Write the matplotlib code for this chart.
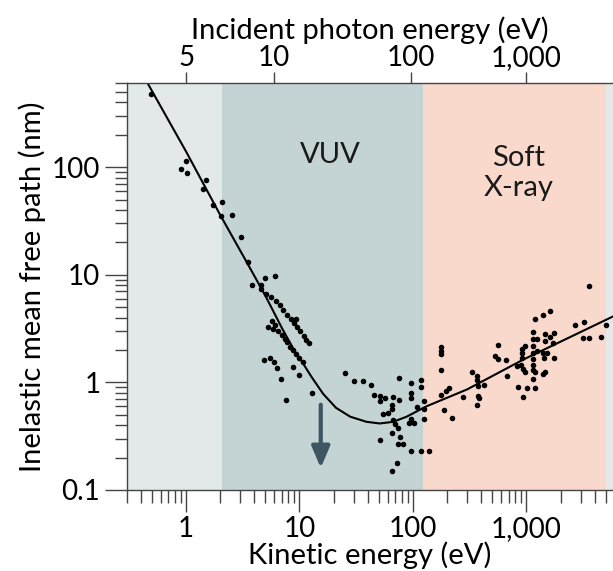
import numpy as np
import matplotlib
matplotlib.use('Agg')
import matplotlib.pyplot as plt
from matplotlib.ticker import LogLocator, NullLocator, NullFormatter

# measured points: kinetic energy (eV) and inelastic mean free path (nm)
kinetic_energy = [
    0.49, 0.99, 0.90, 1.03, 1.51, 1.41, 1.73, 2.06, 2.03, 2.56, 3.07, 3.52, 3.78,
    4.55, 5.0, 6.1,
    4.55, 5.07, 5.6, 6.2, 6.7, 7.2, 7.8, 8.4, 9.3, 8.9, 9.5, 10.2, 11.0, 11.5, 12.1,
    5.7, 5.25, 5.8, 6.1, 6.5, 7.0, 7.4, 7.8, 8.3, 8.85, 9.4, 10.0, 10.7,
    4.9, 5.5, 6.0, 6.4, 6.9, 8.7, 9.9, 7.65, 12.8,
    25.3, 30.2, 36.5, 42.4, 45.6, 51.7, 51.2, 56.3, 66.3, 75, 75.7, 97, 97, 97,
    118, 118, 65, 65, 54.7, 60, 66.3, 70, 74, 66, 77, 51, 73.6, 82, 97, 118, 139,
    72.6, 65.7, 108, 97, 92, 102, 126, 126, 126,
    178, 178, 178, 176, 178, 196, 209, 188, 219, 275, 329, 364, 369, 374, 425,
    374, 381, 370, 561, 528, 561, 656, 680, 847, 931, 1020, 830, 895, 937, 980,
    922, 970, 916, 913, 1135, 1148, 1230, 1148, 1148, 1148, 1188, 1148, 1188,
    1193, 1148, 1148, 1243, 1413, 1622, 1456, 1456, 1622, 1754, 1702, 1406, 1507,
    1435, 1754, 1406, 1470, 2690, 3240, 3160, 3565, 3540, 4530, 5050,
]
mean_free_path = [
    480, 113, 97, 89, 76, 63, 45, 47.5, 35, 36, 22.5, 13.2, 8.1,
    8.1, 9.3, 9.7,
    7.3, 6.7, 6.2, 5.7, 5.2, 4.7, 4.2, 3.9, 3.9, 3.55, 3.25, 3.0, 2.7, 2.5, 2.3,
    3.7, 3.3, 3.15, 3.45, 3.0, 2.75, 2.55, 2.35, 2.15, 2.0, 1.83, 1.68, 1.54,
    1.6, 1.7, 1.55, 1.36, 1.08, 1.39, 1.17, 0.68, 0.79,
    1.21, 1.02, 1.02, 0.94, 0.77, 0.75, 0.67, 0.72, 0.73, 1.09, 0.68, 0.99, 0.80, 0.72,
    1.06, 0.90, 0.61, 0.57, 0.51, 0.52, 0.45, 0.41, 0.38, 0.34, 0.31, 0.29, 0.27, 0.27, 0.23, 0.23, 0.23,
    0.18, 0.15, 0.59, 0.46, 0.42, 0.42, 0.67, 0.57, 0.46,
    2.12, 1.97, 1.82, 1.29, 0.76, 0.84, 0.88, 0.55, 0.47, 0.73, 1.26, 1.15, 1.05, 0.93, 0.94,
    0.75, 0.71, 0.61, 2.22, 1.77, 1.66, 1.60, 1.14, 0.90, 0.73, 0.89, 1.41, 1.46, 1.34, 1.26,
    2.06, 2.18, 1.88, 1.67, 2.17, 1.88, 1.94, 1.64, 1.46, 1.31, 1.24, 1.07, 0.89,
    3.9, 2.92, 2.53, 2.53, 4.2, 4.64, 2.82, 2.40, 2.63, 2.85, 2.34, 1.86, 1.88,
    1.69, 1.67, 1.20, 1.26, 3.39, 3.63, 2.59, 2.59, 7.9, 2.63, 3.38,
]

# universal curve
curve_energy = [0.46, 1, 2, 3.4, 5, 7, 9, 10.5, 12.8, 16.2, 21, 28, 39, 51, 67, 88, 132, 300, 940, 5800]
curve_imfp = [600, 140, 36, 13.3, 6.4, 3.2, 1.98, 1.56, 1.12, 0.78, 0.58, 0.48, 0.43, 0.415, 0.43, 0.48, 0.6, 0.86, 1.63, 4.1]

vuv_range = (2.07, 123)
soft_xray_range = (123, 5000)

bottom_ticks = [1, 10, 100, 1000]
bottom_labels = ['1', '10', '100', '1,000']
y_ticks = [0.1, 1, 10, 100]
y_labels = ['0.1', '1', '10', '100']
photon_ticks = [5, 10, 100, 1000]
photon_labels = ['5', '10', '100', '1,000']
work_function = 4

arrow_energy = 15.4
arrow_top, arrow_tip = 0.62, 0.16

plt.rcParams['font.family'] = ['Lato', 'DejaVu Sans']

fig = plt.figure(figsize=(6.13, 5.71), dpi=100)
ax = fig.add_axes([0.2067, 0.1419, 0.7933, 0.7119])
ax.set_xscale('log')
ax.set_yscale('log')
ax.set_xlim(0.3, 5800)
ax.set_ylim(0.1, 600)
ax.set_facecolor('#e3e9e9')

ax.axvspan(*vuv_range, color='#c4d3d4', lw=0, zorder=0)
ax.axvspan(*soft_xray_range, color='#f9d9cc', lw=0, zorder=0)

ax.plot(curve_energy, curve_imfp, color='black', lw=1.5, zorder=3)
ax.scatter(kinetic_energy, mean_free_path, s=16, color='black', lw=0, zorder=4)

ax.annotate('', xy=(arrow_energy, arrow_tip), xytext=(arrow_energy, arrow_top),
            arrowprops=dict(arrowstyle='-|>,head_width=0.55,head_length=1.3',
                            color='#3e5562', lw=3, shrinkA=0, shrinkB=0), zorder=5)

ax.text(18.6, 131, 'VUV', fontsize=21, ha='center', va='center', color='#1a1a1a')
ax.text(860, 89, 'Soft\nX-ray', fontsize=21, ha='center', va='center',
        color='#1a1a1a', linespacing=1.2)

ax.set_xticks(bottom_ticks, bottom_labels)
ax.xaxis.set_minor_locator(LogLocator(base=10, subs=np.arange(2, 10), numticks=30))
ax.xaxis.set_minor_formatter(NullFormatter())
ax.set_yticks(y_ticks, y_labels)
ax.yaxis.set_minor_locator(LogLocator(base=10, subs=np.arange(2, 10), numticks=30))
ax.yaxis.set_minor_formatter(NullFormatter())

ax.tick_params(which='major', length=16, width=1, color='#444444', labelsize=20, pad=3)
ax.tick_params(which='minor', length=9, width=1, color='#444444')
ax.set_xlabel('Kinetic energy (eV)', fontsize=21, labelpad=-1)
ax.set_ylabel('Inelastic mean free path (nm)', fontsize=21, labelpad=4)

for side in ['top', 'right']:
    ax.spines[side].set_visible(False)
for side in ['left', 'bottom']:
    ax.spines[side].set_color('#444444')
    ax.spines[side].set_linewidth(1)

ax2 = ax.twiny()
ax2.set_xscale('log')
ax2.set_xlim(ax.get_xlim())
ax2.set_xticks(np.array(photon_ticks) - work_function, photon_labels)
ax2.xaxis.set_minor_locator(NullLocator())
ax2.tick_params(which='major', length=8, width=1, color='#444444', labelsize=20, pad=1)
ax2.set_xlabel('Incident photon energy (eV)', fontsize=21, labelpad=4)
for side in ['left', 'right', 'bottom']:
    ax2.spines[side].set_visible(False)
ax2.spines['top'].set_color('#444444')
ax2.spines['top'].set_linewidth(1)

fig.savefig('out.png', dpi=100)
